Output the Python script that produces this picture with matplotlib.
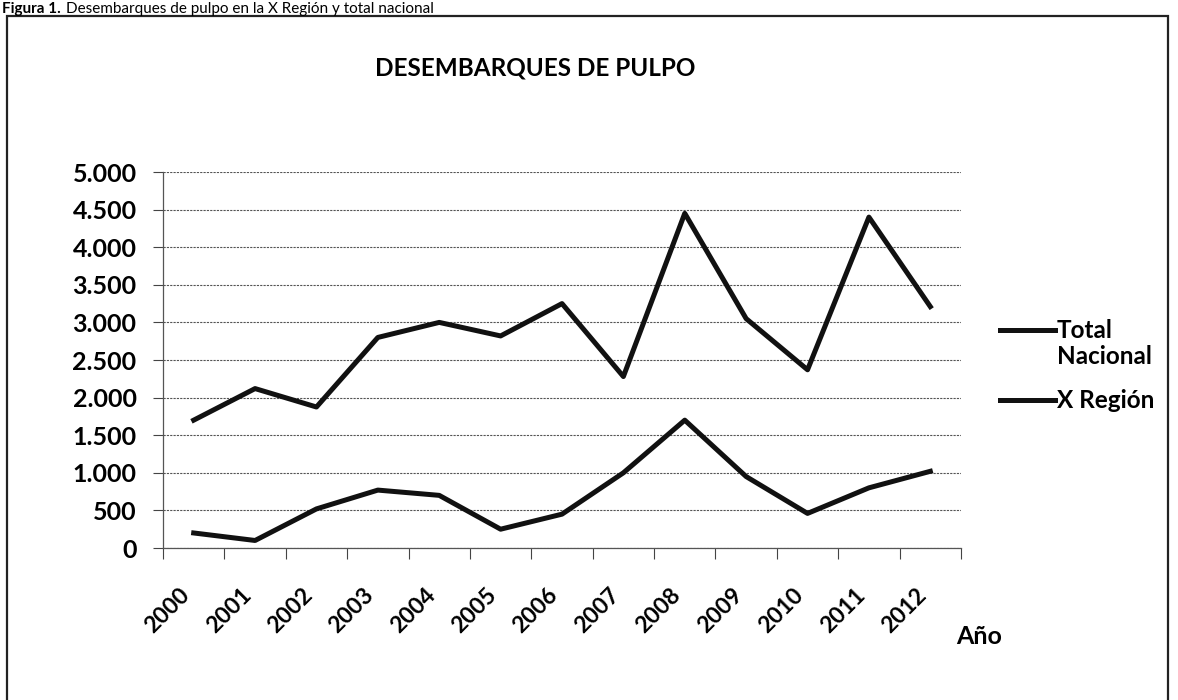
import matplotlib
matplotlib.use('Agg')
import matplotlib.pyplot as plt
import numpy as np
from matplotlib.ticker import FuncFormatter
from matplotlib.lines import Line2D
from matplotlib.patches import Rectangle

# datos (toneladas)
anios = ['2000', '2001', '2002', '2003', '2004', '2005', '2006',
         '2007', '2008', '2009', '2010', '2011', '2012']
total_nacional = [1700, 2120, 1875, 2800, 3000, 2820, 3250,
                  2280, 4450, 3050, 2370, 4400, 3210]
x_region = [200, 100, 520, 770, 700, 250, 450,
            1000, 1700, 950, 460, 800, 1020]

plt.rcParams['font.family'] = ['Lato', 'DejaVu Sans']

W, H = 1178, 700
fig = plt.figure(figsize=(W / 100, H / 100), dpi=100)

# ejes en pixeles de la imagen original
left, right, top, bottom = 163, 961, 172, 548
ax = fig.add_axes([left / W, 1 - bottom / H, (right - left) / W, (bottom - top) / H])

x = np.arange(len(anios))
ax.plot(x, total_nacional, color='#111111', lw=3.6, solid_joinstyle='round')
ax.plot(x, x_region, color='#111111', lw=3.6, solid_joinstyle='round')

ax.set_xlim(-0.5, len(anios) - 0.5)
ax.set_ylim(0, 5000)
ax.set_yticks(np.arange(0, 5001, 500))
ax.yaxis.set_major_formatter(FuncFormatter(lambda v, p: f'{int(v):,}'.replace(',', '.')))
ax.grid(axis='y', color='#555555', lw=0.8, ls=(0, (2, 1)))
ax.set_axisbelow(True)

# ticks del eje x entre categorias (estilo Excel), etiquetas al centro
ax.set_xticks(np.arange(-0.5, len(anios), 1))
ax.tick_params(axis='x', which='major', length=8, color='#444444', labelbottom=False)
ax.set_xticks(x, minor=True)
ax.set_xticklabels(anios, minor=True, rotation=45, ha='right',
                   fontsize=16.5, fontweight='bold')
ax.tick_params(axis='x', which='minor', length=0, pad=26)
ax.tick_params(axis='y', length=7, color='#444444', pad=12,
               labelsize=18)
for lbl in ax.get_yticklabels():
    lbl.set_fontweight('bold')

for s in ['top', 'right']:
    ax.spines[s].set_visible(False)
for s in ['left', 'bottom']:
    ax.spines[s].set_color('#555555')
    ax.spines[s].set_linewidth(0.9)

# titulo y etiqueta del eje
fig.text(535 / W, 1 - 68 / H, 'DESEMBARQUES DE PULPO', ha='center', va='center',
         fontsize=17.5, fontweight='bold')
fig.text(956 / W, 1 - 636 / H, 'Año', ha='left', va='center',
         fontsize=18, fontweight='bold')

# leyenda a la derecha
for y0, txt in [(330, 'Total'), (400, 'X Región')]:
    fig.add_artist(Line2D([1000 / W, 1055 / W], [1 - y0 / H, 1 - y0 / H],
                          transform=fig.transFigure, color='#111111', lw=3.6))
    fig.text(1057 / W, 1 - y0 / H, txt, ha='left', va='center',
             fontsize=17.5, fontweight='bold')
fig.text(1057 / W, 1 - 357 / H, 'Nacional', ha='left', va='center',
         fontsize=17.5, fontweight='bold')

# marco del grafico (el borde inferior queda fuera de la imagen)
fig.add_artist(Rectangle((7 / W, -5 / H), (1168 - 7) / W, (700 + 5 - 16) / H,
                         transform=fig.transFigure, fill=False,
                         ec='#222222', lw=1.6))

# pie de figura arriba del marco
t1 = fig.text(2 / W, 1 - 13 / H, 'Figura 1.', ha='left', va='baseline',
              fontsize=11, fontweight='bold')
fig.canvas.draw()
bb = t1.get_window_extent()
fig.text((bb.x1 + 5) / W, 1 - 13 / H,
         'Desembarques de pulpo en la X Región y total nacional',
         ha='left', va='baseline', fontsize=11)

fig.savefig('out.png', dpi=100)
